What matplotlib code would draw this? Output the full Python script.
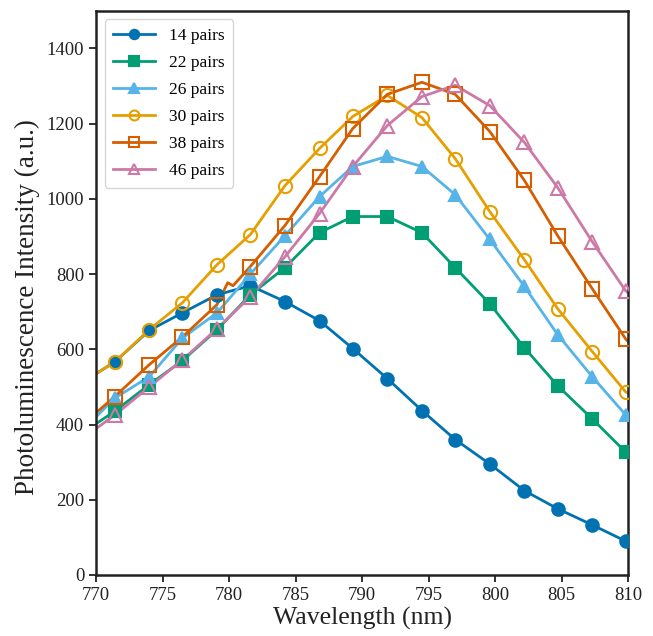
import matplotlib
matplotlib.use('Agg')
import matplotlib.pyplot as plt

plt.rcParams['font.family'] = ['Liberation Serif', 'DejaVu Serif']

# marker positions (nm)
wl = [771.4, 774.0, 776.5, 779.1, 781.6, 784.2, 786.8, 789.3,
      791.9, 794.5, 797.0, 799.6, 802.2, 804.7, 807.3, 809.8]

p14 = [566, 650, 697, 745, 769, 727, 676, 602, 522, 437, 360, 295, 224, 176, 133, 90]
p22 = [435, 506, 570, 652, 745, 817, 910, 953, 953, 910, 817, 721, 604, 503, 415, 327]
p26 = [470, 527, 630, 697, 800, 902, 1006, 1086, 1113, 1086, 1011, 892, 767, 639, 527, 426]
p30 = [566, 652, 724, 825, 905, 1035, 1134, 1219, 1275, 1216, 1107, 966, 838, 708, 594, 487]
p38 = [474, 559, 633, 719, 820, 929, 1059, 1187, 1278, 1310, 1278, 1179, 1049, 902, 761, 628]
p46 = [425, 500, 572, 655, 740, 846, 961, 1086, 1195, 1272, 1302, 1248, 1150, 1030, 886, 756]

# line ends at the axis limits
ends = {
    '14': (535, 88),
    '22': (402, 325),
    '26': (420, 423),
    '30': (535, 483),
    '38': (431, 620),
    '46': (389, 750),
}
# small glitch in the 38 pairs trace near 780 nm
glitch_x = [779.9, 780.3]
glitch_y = [777, 769]

labels = ['14 pairs', '22 pairs', '26 pairs', '30 pairs', '38 pairs', '46 pairs']
series = [p14, p22, p26, p30, p38, p46]
colors = ['#0072B2', '#009E73', '#56B4E9', '#E69F00', '#D55E00', '#CC79A7']
markers = ['o', 's', '^', 'o', 's', '^']
filled = [True, True, True, False, False, False]

fig = plt.figure(figsize=(6.53, 6.36), dpi=100)
ax = fig.add_axes([0.147, 0.096, 0.815, 0.887])

for lab, ys, c, m, f in zip(labels, series, colors, markers, filled):
    key = lab.split()[0]
    lx = [770] + wl + [810]
    ly = [ends[key][0]] + ys + [ends[key][1]]
    if key == '38':
        lx = lx[:5] + glitch_x + lx[5:]
        ly = ly[:5] + glitch_y + ly[5:]
    ax.plot(lx, ly, color=c, lw=2, zorder=2)
    ax.plot(wl, ys, linestyle='none', marker=m, ms=9 if f else 9.5,
            color=c, mfc=c if f else 'none', mew=1.5, zorder=3)
    # legend handle
    ax.plot([], [], color=c, lw=2, marker=m, ms=9 if f else 9.5,
            mfc=c if f else 'none', mew=1.5, label=lab)

ax.set_xlim(770, 810)
ax.set_ylim(0, 1500)
ax.set_xticks(range(770, 811, 5))
ax.set_yticks(range(0, 1401, 200))
ax.tick_params(direction='out', length=5, width=1.3, labelsize=13.5, colors='#222222')
for s in ax.spines.values():
    s.set_linewidth(1.8)
    s.set_color('#222222')

ax.set_xlabel('Wavelength (nm)', fontsize=18.5, color='#222222', labelpad=2)
ax.set_ylabel('Photoluminescence Intensity (a.u.)', fontsize=19.5, color='#222222')
ax.yaxis.set_label_coords(-0.105, 0.475)

leg = ax.legend(loc='upper left', fontsize=12.5, frameon=True, fancybox=True,
                edgecolor='#cccccc', handlelength=2.4, borderpad=0.5,
                labelspacing=0.62, markerscale=0.75)
leg.get_frame().set_linewidth(1.0)

fig.savefig('out.png', dpi=100)
